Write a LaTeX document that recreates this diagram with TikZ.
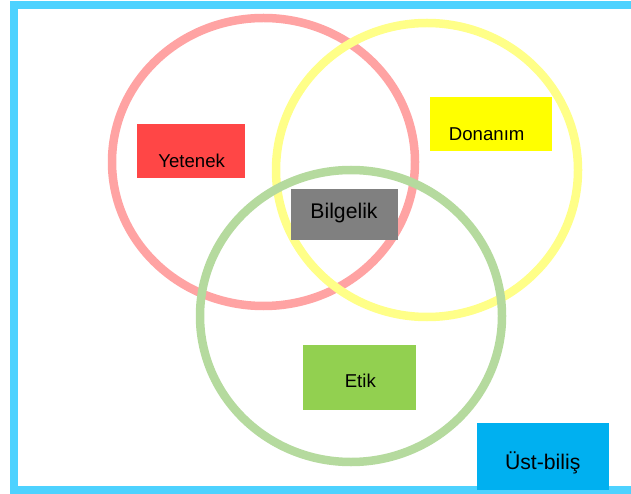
\documentclass[tikz,border=0pt]{standalone}
\usepackage{fontspec}
\setmainfont{Liberation Sans}
\usetikzlibrary{positioning}
\definecolor{cframe}{HTML}{4DD2FF}
\definecolor{cringred}{HTML}{FFA3A3}
\definecolor{cringyellow}{HTML}{FFFF88}
\definecolor{cringgreen}{HTML}{B5DA9E}
\definecolor{cyetenek}{HTML}{FF4646}
\definecolor{cdonanim}{HTML}{FFFF00}
\definecolor{cbilgelik}{HTML}{808080}
\definecolor{cetik}{HTML}{92D050}
\definecolor{custbilis}{HTML}{00B0F0}
\tikzset{
  ring/.style={draw=#1, line width=8.5pt},
  box/.style={fill=#1, inner sep=0pt},
  word/.style={font=\fontsize{18.6}{20}\selectfont, text=black, anchor=base, inner sep=0pt},
  bigword/.style={font=\fontsize{21.2}{24}\selectfont, text=black, anchor=base, inner sep=0pt},
}

\begin{document}
\begin{tikzpicture}[x=1pt, y=-1pt]
  \clip (0,0) rectangle (631,494);
  % frame
  \draw[cframe, line width=8pt] (13.5,5) rectangle (660,490);
  % rings
  \draw[ring=cringred] (263.5,162) ellipse [x radius=151.5, y radius=144];
  \draw[ring=cringyellow] (427,170) ellipse [x radius=151, y radius=147];
  \draw[ring=cringgreen] (351,316) ellipse [x radius=151, y radius=146];
  % boxes
  \node[box=cyetenek, minimum width=108pt, minimum height=54pt] (yetenekbox) at (191,151) {};
  \node[box=cdonanim, minimum width=122pt, minimum height=54pt] (donanimbox) at (491,124) {};
  \node[box=cbilgelik, minimum width=107pt, minimum height=51pt] (bilgelikbox) at (344.5,214.5) {};
  \node[box=cetik, minimum width=113pt, minimum height=65pt] (etikbox) at (359.5,377.5) {};
  \node[box=custbilis, minimum width=132pt, minimum height=67pt] (ustbilisbox) at (543,456.5) {};
  % labels
  \node[word] (yetenek) at (191.7,167.3) {Yetenek};
  \node[word] (donanim) at (486.7,140.7) {Donanım};
  \node[bigword] (bilgelik) at (344,218.7) {Bilgelik};
  \node[word] (etik) at (360.3,387.7) {Etik};
  \node[bigword] (ustbilis) at (542.7,469) {Üst-biliş};
\end{tikzpicture}
\end{document}
